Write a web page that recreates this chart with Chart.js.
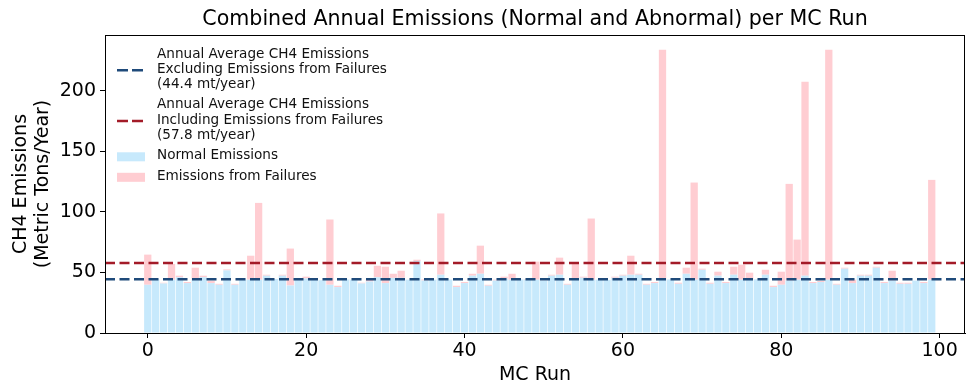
<!DOCTYPE html>
<html>
<head>
<meta charset="utf-8">
<script src="https://cdn.jsdelivr.net/npm/chart.js@4.4.1/dist/chart.umd.min.js"></script>
<style>
  html, body { margin: 0; padding: 0; background: #fff; }
</style>
</head>
<body>
<canvas id="emissionsChart" width="967" height="383"></canvas>
<script>
// values (metric tons / year per MC run)
const normalEmissions = [
  39.8, 44.2, 40.9, 44.0, 46.0, 41.2, 44.0, 46.0, 41.2, 39.8,
  51.7, 39.8, 44.0, 44.0, 44.0, 47.3, 44.5, 47.3, 39.2, 44.3,
  45.0, 44.0, 43.6, 39.8, 37.9, 44.2, 44.0, 40.9, 42.5, 46.0,
  41.2, 45.5, 45.5, 44.0, 59.4, 43.3, 44.0, 48.1, 44.1, 37.9,
  41.2, 47.3, 48.9, 39.0, 43.3, 45.0, 44.0, 44.2, 44.0, 44.0,
  43.3, 47.3, 48.1, 39.8, 45.0, 45.6, 44.0, 44.0, 43.8, 45.6,
  47.3, 48.1, 48.1, 39.8, 41.2, 44.0, 44.2, 40.6, 48.9, 44.0,
  52.2, 40.6, 47.3, 41.2, 48.1, 44.0, 44.0, 44.3, 48.1, 37.9,
  39.8, 43.3, 44.0, 47.3, 41.2, 42.1, 44.0, 39.8, 53.1, 41.2,
  47.3, 47.3, 53.9, 41.2, 43.3, 40.6, 40.6, 43.3, 41.2, 44.0
];
const failureEmissions = [
  24.9, 0.0, 0.6, 13.0, 1.3, 0.9, 9.9, 1.3, 1.9, 0.8,
  0.8, 0.8, 0.0, 19.8, 63.4, 0.8, 0.0, 0.8, 30.5, 0.0,
  1.5, 0.0, 0.0, 53.9, 1.1, 0.0, 0.0, 0.6, 1.5, 9.5,
  13.5, 3.4, 5.9, 0.0, 1.1, 0.9, 0.0, 50.6, 0.0, 1.1,
  0.9, 1.6, 23.2, 0.8, 0.7, 1.5, 4.9, 0.0, 0.5, 14.9,
  0.0, 0.8, 14.1, 0.8, 12.2, 0.9, 50.5, 0.0, 0.0, 0.9,
  0.8, 15.7, 0.8, 0.8, 0.9, 189.9, 0.0, 0.9, 5.0, 80.2,
  0.9, 0.9, 3.3, 0.9, 6.6, 12.4, 5.8, 0.0, 4.1, 1.1,
  10.8, 79.8, 33.1, 160.1, 0.9, 0.8, 189.9, 0.8, 0.8, 2.8,
  0.8, 0.8, 0.8, 0.9, 8.1, 0.9, 0.9, 0.0, 0.9, 82.4
];
const avgExcludingFailures = 44.4;
const avgIncludingFailures = 57.8;
const xTickValues = [0, 20, 40, 60, 80, 100];
const yTickValues = [0, 50, 100, 150, 200];

const runs = normalEmissions.map((v, i) => i);
const xMin = -5.4, xMax = 103.2;

const FONT = '"DejaVu Sans", sans-serif';

const framePlugin = {
  id: 'frameAndText',
  afterDraw(chart) {
    const {ctx, chartArea} = chart;
    ctx.save();
    // box round the axes
    ctx.strokeStyle = '#000';
    ctx.lineWidth = 1;
    ctx.strokeRect(chartArea.left + 0.5, chartArea.top + 0.5,
                   chartArea.right - chartArea.left - 1, chartArea.bottom - chartArea.top);

    // title
    ctx.fillStyle = '#000';
    ctx.font = '20.6px ' + FONT;
    ctx.textAlign = 'center';
    ctx.textBaseline = 'middle';
    ctx.fillText('Combined Annual Emissions (Normal and Abnormal) per MC Run',
                 (chartArea.left + chartArea.right) / 2, 20);

    // legend, no frame, upper left
    ctx.font = '13.6px ' + FONT;
    ctx.textAlign = 'left';
    let y = 54;
    chart.data.datasets.forEach(ds => {
      const lines = ds.label.split('\n');
      const midY = y + (lines.length - 1) * 15.2 / 2 + 1;
      if (ds.type === 'line') {
        ctx.strokeStyle = ds.borderColor;
        ctx.lineWidth = 2.5;
        ctx.setLineDash([11, 4]);
        ctx.beginPath();
        ctx.moveTo(117, midY);
        ctx.lineTo(143, midY);
        ctx.stroke();
        ctx.setLineDash([]);
      } else {
        ctx.fillStyle = ds.backgroundColor;
        ctx.fillRect(117, midY - 4.5, 28, 9);
      }
      ctx.fillStyle = '#111';
      lines.forEach((t, i) => ctx.fillText(t, 157, y + i * 15.2));
      y += (lines.length - 1) * 15.2 + 20.5;
    });
    ctx.restore();
  }
};

new Chart(document.getElementById('emissionsChart'), {
  type: 'bar',
  data: {
    datasets: [
      {
        type: 'line',
        label: 'Annual Average CH4 Emissions\nExcluding Emissions from Failures\n(44.4 mt/year)',
        data: [{x: xMin, y: avgExcludingFailures}, {x: xMax, y: avgExcludingFailures}],
        borderColor: '#1f4a7a',
        borderWidth: 2.5,
        borderDash: [10, 4.5],
        pointRadius: 0,
        stack: 'avgLow',
        order: 0
      },
      {
        type: 'line',
        label: 'Annual Average CH4 Emissions\nIncluding Emissions from Failures\n(57.8 mt/year)',
        data: [{x: xMin, y: avgIncludingFailures}, {x: xMax, y: avgIncludingFailures}],
        borderColor: '#a31b28',
        borderWidth: 2.5,
        borderDash: [10, 4.5],
        pointRadius: 0,
        stack: 'avgHigh',
        order: 0
      },
      {
        label: 'Normal Emissions',
        data: runs.map(i => ({x: i, y: normalEmissions[i]})),
        backgroundColor: '#c7e9fc',
        stack: 'bars',
        order: 2
      },
      {
        label: 'Emissions from Failures',
        data: runs.map(i => ({x: i, y: failureEmissions[i]})),
        backgroundColor: '#ffcdd2',
        stack: 'bars',
        order: 2
      }
    ]
  },
  options: {
    responsive: false,
    animation: false,
    devicePixelRatio: 1,
    layout: {padding: {top: 35, right: 2, left: 0, bottom: 0}},
    datasets: {bar: {categoryPercentage: 1.0, barPercentage: 0.92}},
    plugins: {
      legend: {display: false},
      tooltip: {enabled: false},
      title: {display: false}
    },
    scales: {
      x: {
        type: 'linear',
        min: xMin,
        max: xMax,
        offset: false,
        stacked: true,
        afterBuildTicks: s => { s.ticks = xTickValues.map(v => ({value: v})); },
        afterFit: s => { s.height = 50; },
        grid: {display: true, drawOnChartArea: false, drawTicks: true, tickLength: 5, color: '#000', offset: false},
        border: {display: true, color: '#000', width: 1},
        ticks: {color: '#000', font: {family: FONT, size: 19}, padding: 2, maxRotation: 0},
        title: {display: true, text: 'MC Run', color: '#000', font: {family: FONT, size: 19, lineHeight: 0.84}, padding: {top: 0, bottom: 0}}
      },
      y: {
        min: 0,
        max: 246,
        stacked: true,
        afterBuildTicks: s => { s.ticks = yTickValues.map(v => ({value: v})); },
        afterFit: s => { s.width = 105; },
        grid: {display: true, drawOnChartArea: false, drawTicks: true, tickLength: 5, color: '#000'},
        border: {display: true, color: '#000', width: 1},
        ticks: {color: '#000', font: {family: FONT, size: 19}, padding: 4},
        title: {display: true, text: ['CH4 Emissions', '(Metric Tons/Year)'], color: '#000',
                font: {family: FONT, size: 19, lineHeight: 1.15}, padding: {top: 10, bottom: 0}}
      }
    }
  },
  plugins: [framePlugin]
});
</script>
</body>
</html>
